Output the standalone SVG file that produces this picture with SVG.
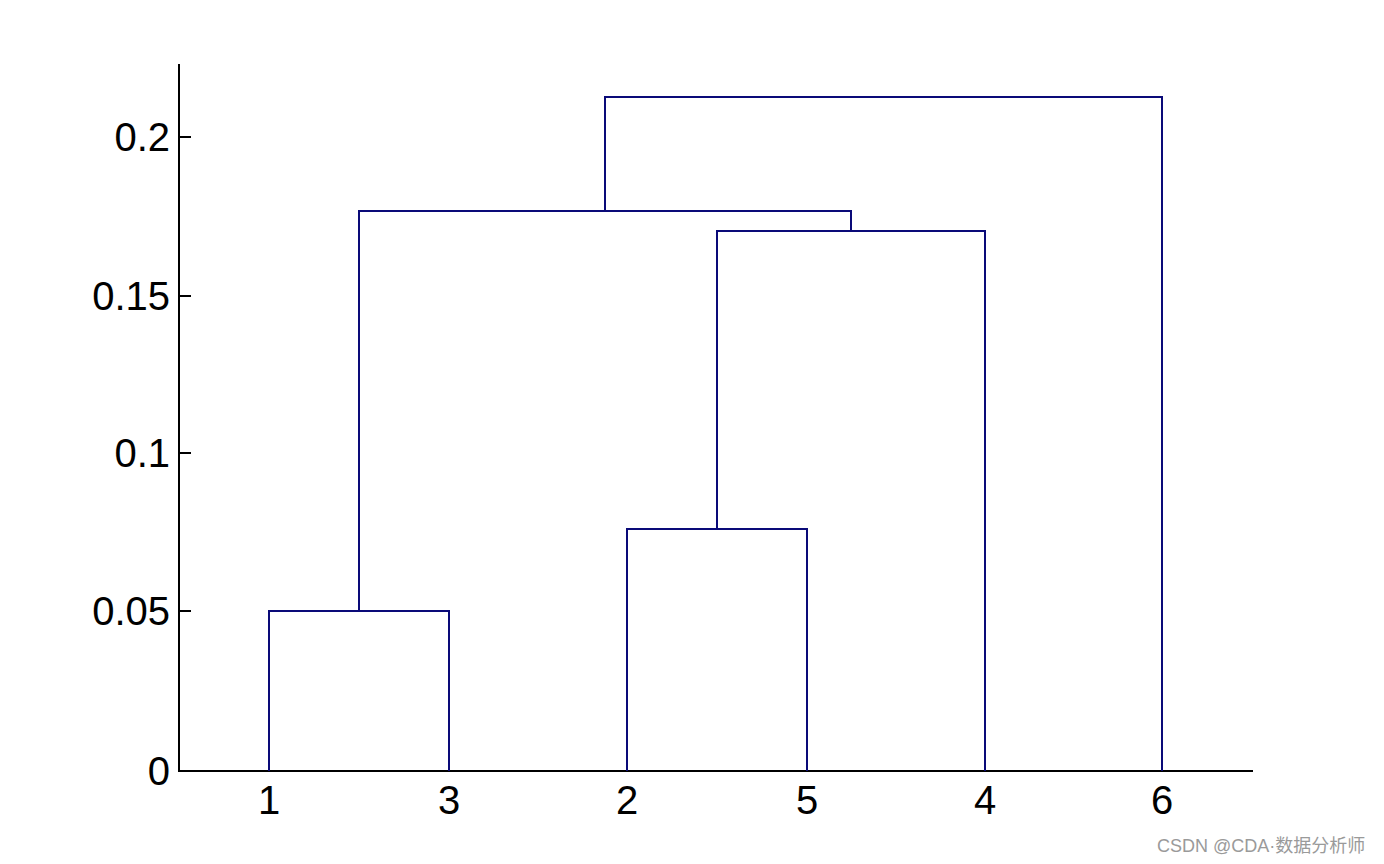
<svg xmlns="http://www.w3.org/2000/svg" width="1384" height="864" viewBox="0 0 1384 864">
<style>
.ax{stroke:#000;stroke-width:2;fill:none}
.ln{stroke:#0a0a78;stroke-width:2;fill:none}
.lab{font-family:"Liberation Sans",Arial,sans-serif;font-size:40px;fill:#000}
.wm{font-family:"Liberation Sans","Noto Sans CJK SC",sans-serif;font-size:18px;fill:#9a9a9a}
</style>
<rect width="1384" height="864" fill="#fff"/>
<g id="axes">
<path class="ax" d="M179,64 V771 H1253"/>
<path class="ax" d="M179,137 H191 M179,296 H191 M179,453 H191 M179,611 H191"/>
</g>
<g id="ylabels" class="lab" text-anchor="end">
<text x="170" y="151">0.2</text>
<text x="170" y="310">0.15</text>
<text x="170" y="467">0.1</text>
<text x="170" y="625">0.05</text>
<text x="170" y="785">0</text>
</g>
<g id="xlabels" class="lab" text-anchor="middle">
<text x="269" y="814">1</text>
<text x="449" y="814">3</text>
<text x="627" y="814">2</text>
<text x="807" y="814">5</text>
<text x="985" y="814">4</text>
<text x="1162" y="814">6</text>
</g>
<g id="connectors">
<path id="link-1-3" class="ln" d="M269,771 V611 H449 V771"/>
<path id="link-2-5" class="ln" d="M627,771 V529 H807 V771"/>
<path id="link-25-4" class="ln" d="M717,529 V231 H985 V771"/>
<path id="link-13-254" class="ln" d="M359,611 V211 H851 V231"/>
<path id="link-all-6" class="ln" d="M605,211 V97 H1162 V771"/>
</g>
<text class="wm" x="1157" y="852">CSDN @CDA·数据分析师</text>
</svg>
